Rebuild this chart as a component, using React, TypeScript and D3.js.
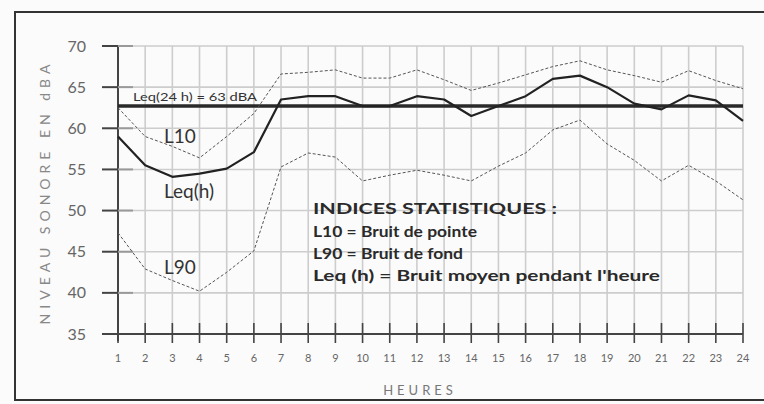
import React from "react";
import * as d3 from "d3";

const hours = d3.range(1, 25);
const L10 = [62.5, 59.0, 57.8, 56.4, 59.0, 61.8, 66.6, 66.8, 67.1, 66.1, 66.1, 67.1, 65.9, 64.6, 65.5, 66.5, 67.5, 68.2, 67.1, 66.4, 65.6, 67.0, 65.8, 64.8];
const LEQ = [59.0, 55.5, 54.1, 54.5, 55.1, 57.1, 63.5, 63.9, 63.9, 62.7, 62.7, 63.9, 63.5, 61.5, 62.7, 63.9, 66.0, 66.4, 65.0, 63.0, 62.3, 64.0, 63.4, 60.9];
const L90 = [47.3, 42.9, 41.5, 40.2, 42.5, 45.1, 55.3, 57.0, 56.5, 53.6, 54.3, 54.9, 54.3, 53.6, 55.4, 57.0, 59.8, 61.0, 58.1, 56.1, 53.6, 55.5, 53.6, 51.3];
const LEQ24 = 62.7;
const yTicks = [35, 40, 45, 50, 55, 60, 65, 70];
const legendLines = ["L10 = Bruit de pointe", "L90 = Bruit de fond", "Leq (h) = Bruit moyen pendant l'heure"];
const legendWidths = [164, 150, 347];

const FONT = "Lato, 'Open Sans', sans-serif";

export default function App() {
  const x = d3.scaleLinear().domain([1, 24]).range([118, 743]);
  const y = d3.scaleLinear().domain([35, 70]).range([334, 46]);
  const line = d3
    .line<number>()
    .x((_, i) => x(hours[i]))
    .y((d) => y(d));

  return (
    <svg
      width={764}
      height={404}
      style={{ position: "fixed", left: 0, top: 0, background: "#fbfbfb" }}
    >
      <rect x={0} y={0} width={764} height={404} fill="#fbfbfb" />
      {/* frame */}
      <path d="M764,12 H15 V400 H764" fill="none" stroke="#333" strokeWidth={2} />

      {/* grid */}
      {hours.map((h) => (
        <line key={"vg" + h} x1={x(h)} x2={x(h)} y1={y(70)} y2={y(35)} stroke="#cdcdcd" strokeWidth={1.6} />
      ))}
      {yTicks.map((t) => (
        <line key={"hg" + t} x1={x(1)} x2={x(24)} y1={y(t)} y2={y(t)} stroke="#cdcdcd" strokeWidth={1.6} />
      ))}

      {/* y axis */}
      <line x1={x(1)} x2={x(1)} y1={y(70) - 1} y2={y(35) + 7} stroke="#444" strokeWidth={2} />
      {yTicks.map((t) => (
        <g key={"yt" + t}>
          <line x1={102} x2={x(1)} y1={y(t)} y2={y(t)} stroke="#444" strokeWidth={2} />
          <line x1={x(1)} x2={133} y1={y(t)} y2={y(t)} stroke="#999" strokeWidth={2} />
          <text x={86} y={y(t) + 5.5} textAnchor="end" fontSize={16} fill="#666" fontFamily={FONT}>
            {t}
          </text>
        </g>
      ))}

      {/* x axis */}
      <line x1={102} x2={x(24)} y1={y(35)} y2={y(35)} stroke="#444" strokeWidth={2} />
      {hours.map((h) => (
        <g key={"xt" + h}>
          <line x1={x(h)} x2={x(h)} y1={y(35) - 11} y2={y(35) + 9} stroke="#444" strokeWidth={1.6} />
          <text x={x(h)} y={362} textAnchor="middle" fontSize={11} fill="#666" fontFamily={FONT}>
            {h}
          </text>
        </g>
      ))}

      {/* Leq 24h */}
      <line x1={x(1)} x2={x(24)} y1={y(LEQ24)} y2={y(LEQ24)} stroke="#2a2a2a" strokeWidth={3.5} />
      <text x={133} y={101} fontSize={11} fill="#333" fontFamily={FONT} textLength={124} lengthAdjust="spacingAndGlyphs">
        Leq(24 h) = 63 dBA
      </text>

      {/* series */}
      <path d={line(L10) || ""} fill="none" stroke="#555" strokeWidth={1} strokeDasharray="3,2" />
      <path d={line(L90) || ""} fill="none" stroke="#555" strokeWidth={1} strokeDasharray="3,2" />
      <path d={line(LEQ) || ""} fill="none" stroke="#222" strokeWidth={2.2} strokeLinejoin="round" />

      {/* curve labels */}
      <text x={164} y={143} fontSize={19} fill="#333" fontFamily={FONT}>L10</text>
      <text x={164} y={198} fontSize={19} fill="#333" fontFamily={FONT}>Leq(h)</text>
      <text x={164} y={274} fontSize={19} fill="#333" fontFamily={FONT}>L90</text>

      {/* legend */}
      <text x={313} y={214} fontSize={16} fontWeight="bold" fill="#2a2a2a" fontFamily={FONT} textLength={244} lengthAdjust="spacingAndGlyphs">
        INDICES STATISTIQUES :
      </text>
      {legendLines.map((s, i) => (
        <text key={s} x={313} y={237 + i * 22} fontSize={15.5} fontWeight="bold" fill="#2a2a2a" fontFamily={FONT} textLength={legendWidths[i]} lengthAdjust="spacingAndGlyphs">
          {s}
        </text>
      ))}

      {/* axis titles */}
      <text
        transform={`translate(50,${192}) rotate(-90)`}
        textAnchor="middle"
        fontSize={14}
        fill="#888"
        letterSpacing={5}
        fontFamily={FONT}
      >
        NIVEAU SONORE EN dBA
      </text>
      <text x={420} y={395} textAnchor="middle" fontSize={13} fill="#777" letterSpacing={4} fontFamily={FONT}>
        HEURES
      </text>
    </svg>
  );
}
